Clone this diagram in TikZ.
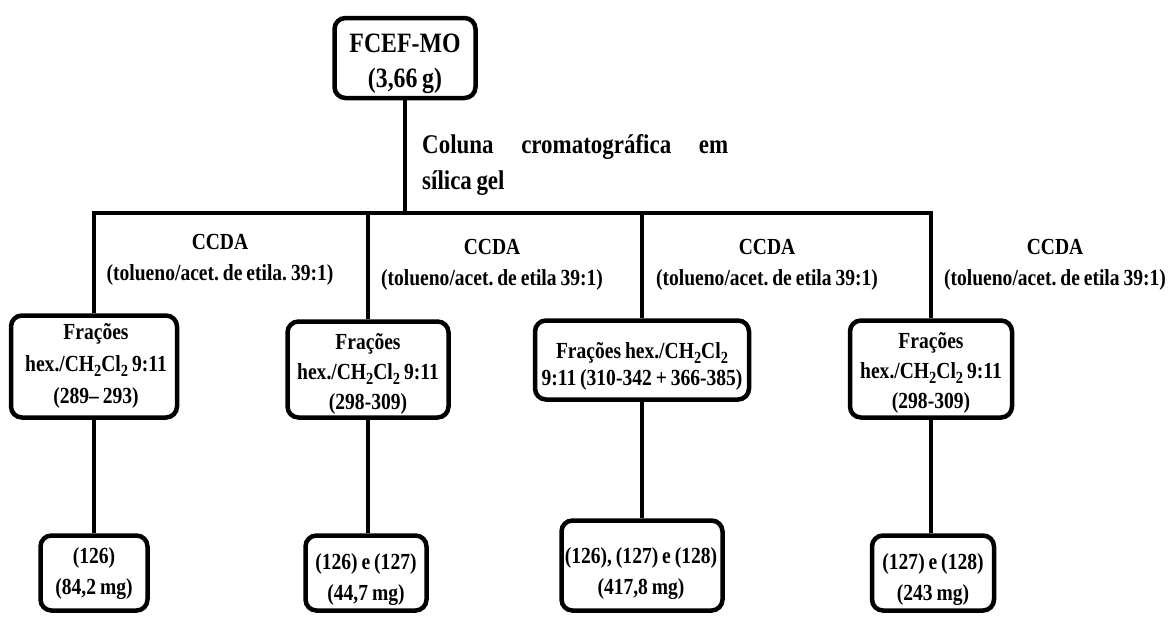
\documentclass[tikz,border=0pt]{standalone}
\usepackage{fontspec}
\setmainfont{Liberation Serif}[FakeStretch=0.85,WordSpace=0.8]
\newcommand\subtwo[1]{\raisebox{-5pt}{\fontsize{17}{17}\selectfont #1}}
\begin{document}
\frenchspacing
\begin{tikzpicture}[x=1pt,y=-1pt,
  box/.style={draw, line width=4.5pt, rounded corners=11pt, inner sep=0pt},
  link/.style={line width=4pt},
  lbl/.style={align=center, inner sep=0pt, font=\fontsize{23}{31}\selectfont\bfseries}]
\useasboundingbox (0,0) rectangle (1169,616);

% top
\node[box, minimum width=141pt, minimum height=80pt] (top) at (405,58) {};
\node[lbl, font=\fontsize{28}{35}\selectfont\bfseries] (topt) at (405,64) {FCEF-MO\\(3,66 g)};
\node[lbl, anchor=west, align=left, font=\fontsize{27}{36}\selectfont\bfseries] (col) at (422,165)
  {\makebox[306pt][s]{Coluna cromatográfica em}\\sílica gel};

% junctions on the bar
\coordinate (j1) at (94,213);
\coordinate (j2) at (368,213);
\coordinate (j3) at (642,213);
\coordinate (j4) at (931,213);

% middle boxes
\node[box, minimum width=166pt, minimum height=102pt] (b1) at (94,366.5) {};
\node[lbl, font=\fontsize{23}{32}\selectfont\bfseries] (b1t) at (96,366)
  {Frações\\hex./CH\subtwo{2}Cl\subtwo{2} 9:11\\(289– 293)};
\node[box, minimum width=161pt, minimum height=96pt] (b2) at (368,369.5) {};
\node[lbl, font=\fontsize{23}{30}\selectfont\bfseries] (b2t) at (368,374)
  {Frações\\hex./CH\subtwo{2}Cl\subtwo{2} 9:11\\(298-309)};
\node[box, minimum width=214pt, minimum height=79pt] (b3) at (642,360) {};
\node[lbl, font=\fontsize{23}{27}\selectfont\bfseries] (b3t) at (642,366)
  {Frações hex./CH\subtwo{2}Cl\subtwo{2}\\9:11 (310-342 + 366-385)};
\node[box, minimum width=162pt, minimum height=97pt] (b4) at (931,369) {};
\node[lbl, font=\fontsize{23}{30}\selectfont\bfseries] (b4t) at (931,373)
  {Frações\\hex./CH\subtwo{2}Cl\subtwo{2} 9:11\\(298-309)};

% bottom boxes
\node[box, minimum width=107pt, minimum height=75pt] (c1) at (94,573) {};
\node[lbl] (c1t) at (94,574) {(126)\\(84,2 mg)};
\node[box, minimum width=121pt, minimum height=75pt] (c2) at (366,573) {};
\node[lbl] (c2t) at (366,580) {(126) e (127)\\(44,7 mg)};
\node[box, minimum width=161pt, minimum height=90pt] (c3) at (642,565.5) {};
\node[lbl] (c3t) at (641,574) {(126), (127) e (128)\\(417,8 mg)};
\node[box, minimum width=122pt, minimum height=75pt] (c4) at (933,573) {};
\node[lbl] (c4t) at (933,580) {(127) e (128)\\(243 mg)};

% labels
\node[lbl] (l1) at (220,260) {CCDA\\(tolueno/acet. de etila. 39:1)};
\node[lbl] (l2) at (492,265) {CCDA\\(tolueno/acet. de etila 39:1)};
\node[lbl] (l3) at (767,265) {CCDA\\(tolueno/acet. de etila 39:1)};
\node[lbl] (l4) at (1055,265) {CCDA\\(tolueno/acet. de etila 39:1)};

% connectors
\draw[link] (top.south) -- (top.south |- j1);
\draw[link] (b1.north) -- (j1) -- (j4) -- (b4.north);
\draw[link] (j2) -- (b2.north);
\draw[link] (j3) -- (b3.north);
\draw[link] (b1.south) -- (b1.south |- c1.north);
\draw[link] (b2.south) -- (b2.south |- c2.north);
\draw[link] (b3.south) -- (b3.south |- c3.north);
\draw[link] (b4.south) -- (b4.south |- c4.north);
\end{tikzpicture}
\end{document}
